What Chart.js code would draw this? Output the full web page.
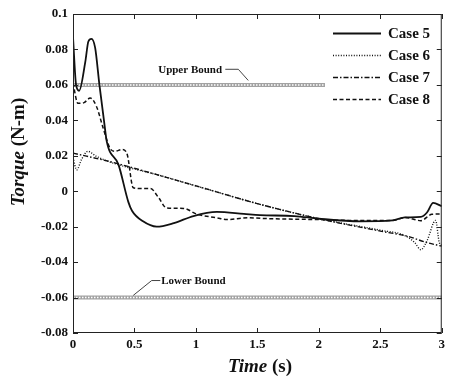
<!DOCTYPE html>
<html>
<head>
<meta charset="utf-8">
<script src="https://cdn.jsdelivr.net/npm/chart.js@4"></script>
<style>
  html, body { margin: 0; padding: 0; background: #fff; }
  #wrap { width: 449px; height: 377px; }
</style>
</head>
<body>
<div id="wrap"><canvas id="torque-chart" width="449" height="377"></canvas></div>
<script>
// time samples (s) and torque values (N-m)
const case5Time = [0, 0.025, 0.05, 0.1, 0.125, 0.15, 0.18, 0.215, 0.25, 0.275, 0.37, 0.45, 0.48, 0.57, 0.68, 0.82, 0.98, 1.17, 1.39, 1.52, 1.8, 2.0, 2.34, 2.6, 2.7, 2.83, 2.88, 2.93, 3.0];
const case5Torque = [0.087, 0.06, 0.0567, 0.073, 0.0845, 0.086, 0.081, 0.06, 0.041, 0.028, 0.015, -0.006, -0.011, -0.017, -0.02, -0.018, -0.014, -0.0117, -0.0128, -0.0135, -0.014, -0.0155, -0.017, -0.0165, -0.0148, -0.0145, -0.012, -0.0066, -0.0085];

const case6Time = [0, 0.03, 0.07, 0.12, 0.19, 0.3, 0.7, 1.1, 1.5, 2.0, 2.5, 2.7, 2.78, 2.83, 2.88, 2.95, 2.98, 3.0];
const case6Torque = [0.019, 0.012, 0.018, 0.0225, 0.0197, 0.0165, 0.009, 0.001, -0.007, -0.0155, -0.022, -0.025, -0.029, -0.033, -0.028, -0.0165, -0.029, -0.0305];

const case7Time = [0, 0.3, 0.7, 1.1, 1.5, 2.0, 2.5, 2.72, 2.88, 3.0];
const case7Torque = [0.0215, 0.0167, 0.009, 0.001, -0.007, -0.0155, -0.0225, -0.0254, -0.029, -0.031];

const case8Time = [0, 0.04, 0.09, 0.14, 0.19, 0.245, 0.3, 0.34, 0.4, 0.44, 0.49, 0.55, 0.63, 0.7, 0.76, 0.9, 1.01, 1.17, 1.25, 1.42, 1.6, 2.0, 2.3, 2.6, 2.7, 2.83, 2.92, 3.0];
const case8Torque = [0.061, 0.0496, 0.05, 0.0526, 0.048, 0.0357, 0.0244, 0.0225, 0.0236, 0.021, 0.002, 0.0015, 0.0015, -0.004, -0.0094, -0.0097, -0.013, -0.015, -0.016, -0.015, -0.0155, -0.016, -0.0165, -0.0165, -0.0148, -0.0166, -0.013, -0.0128];

const caseNames = ['Case 5', 'Case 6', 'Case 7', 'Case 8'];

// bounds
const upperBound = 0.06;
const upperBoundSpan = [0, 2.05];
const lowerBound = -0.06;
const lowerBoundSpan = [0, 3];

// tick labels
const xTickLabels = ['0', '0.5', '1', '1.5', '2', '2.5', '3'];
const yTickLabels = ['-0.08', '-0.06', '-0.04', '-0.02', '0', '0.02', '0.04', '0.06', '0.08', '0.1'];

const serif = "'Liberation Serif', 'Times New Roman', serif";

function toPoints(xs, ys) {
  return xs.map((x, i) => ({ x: x, y: ys[i] }));
}

function boundPoints(span, value) {
  return span.map(x => ({ x: x, y: value }));
}

const caseStyles = [
  { borderWidth: 1.8, borderDash: [] },
  { borderWidth: 1.4, borderDash: [1, 1.6] },
  { borderWidth: 1.4, borderDash: [5, 2, 1.5, 2] },
  { borderWidth: 1.5, borderDash: [4, 2.5] }
];

const caseData = [
  toPoints(case5Time, case5Torque),
  toPoints(case6Time, case6Torque),
  toPoints(case7Time, case7Torque),
  toPoints(case8Time, case8Torque)
];

const datasets = caseNames.map((name, i) => ({
  label: name,
  data: caseData[i],
  borderColor: '#111',
  borderWidth: caseStyles[i].borderWidth,
  borderDash: caseStyles[i].borderDash,
  pointRadius: 0,
  cubicInterpolationMode: 'monotone',
  fill: false,
  order: i
}));

// chain-looking bound lines: grey band with a white dashed line on top
[[upperBoundSpan, upperBound], [lowerBoundSpan, lowerBound]].forEach(([span, val]) => {
  datasets.push({ label: 'bound', data: boundPoints(span, val), borderColor: '#a2a2a2', borderWidth: 4, pointRadius: 0, order: 10 });
  datasets.push({ label: 'bound', data: boundPoints(span, val), borderColor: '#fff', borderWidth: 1.5, borderDash: [1.5, 1.5], pointRadius: 0, order: 9 });
});

// frame, inward ticks, legend, axis titles and bound labels
const decorations = {
  id: 'decorations',
  afterDraw(chart) {
    const ctx = chart.ctx;
    const a = chart.chartArea;
    const xs = chart.scales.x;
    const ys = chart.scales.y;
    ctx.save();

    // frame
    ctx.strokeStyle = '#222';
    ctx.lineWidth = 1;
    ctx.strokeRect(a.left + 0.5, a.top + 0.5, a.right - a.left - 1, a.bottom - a.top - 1);

    // ticks pointing inward
    const tl = 5;
    ctx.beginPath();
    xs.ticks.forEach(t => {
      const px = Math.round(xs.getPixelForValue(t.value)) + 0.5;
      ctx.moveTo(px, a.bottom); ctx.lineTo(px, a.bottom - tl);
      ctx.moveTo(px, a.top); ctx.lineTo(px, a.top + tl);
    });
    ys.ticks.forEach(t => {
      const py = Math.round(ys.getPixelForValue(t.value)) + 0.5;
      ctx.moveTo(a.left, py); ctx.lineTo(a.left + tl, py);
      ctx.moveTo(a.right, py); ctx.lineTo(a.right - tl, py);
    });
    ctx.stroke();

    // legend inside the plot
    const lx0 = 333, lx1 = 381, ly0 = 33, step = 22;
    ctx.font = 'bold 15px ' + serif;
    ctx.textBaseline = 'middle';
    ctx.textAlign = 'left';
    caseNames.forEach((name, i) => {
      const y = ly0 + i * step;
      ctx.fillStyle = '#fff';
      ctx.fillRect(lx0 - 2, y - 9, 100, 18);
      ctx.strokeStyle = '#111';
      ctx.lineWidth = caseStyles[i].borderWidth;
      ctx.setLineDash(caseStyles[i].borderDash);
      ctx.beginPath();
      ctx.moveTo(lx0, y + 0.5); ctx.lineTo(lx1, y + 0.5);
      ctx.stroke();
      ctx.setLineDash([]);
      ctx.fillStyle = '#111';
      ctx.fillText(name, 388, y + 1);
    });

    // bound labels with leader lines
    ctx.font = 'bold 11px ' + serif;
    ctx.fillStyle = '#111';
    ctx.textBaseline = 'middle';
    ctx.fillText('Upper Bound', xs.getPixelForValue(0.693), ys.getPixelForValue(0.0685));
    ctx.fillText('Lower Bound', xs.getPixelForValue(0.717), ys.getPixelForValue(-0.0507));
    ctx.strokeStyle = '#444';
    ctx.lineWidth = 1;
    ctx.beginPath();
    ctx.moveTo(xs.getPixelForValue(1.239), ys.getPixelForValue(0.0688));
    ctx.lineTo(xs.getPixelForValue(1.345), ys.getPixelForValue(0.0688));
    ctx.lineTo(xs.getPixelForValue(1.426), ys.getPixelForValue(0.0625));
    ctx.moveTo(xs.getPixelForValue(0.71), ys.getPixelForValue(-0.0504));
    ctx.lineTo(xs.getPixelForValue(0.64), ys.getPixelForValue(-0.0504));
    ctx.lineTo(xs.getPixelForValue(0.49), ys.getPixelForValue(-0.0588));
    ctx.stroke();

    // axis titles (italic word + upright unit)
    function mixedTitle(parts, cx, cy) {
      let total = 0;
      parts.forEach(p => { ctx.font = p.font; total += ctx.measureText(p.text).width; });
      let x = cx - total / 2;
      ctx.textAlign = 'left';
      ctx.textBaseline = 'alphabetic';
      parts.forEach(p => {
        ctx.font = p.font;
        ctx.fillText(p.text, x, cy);
        x += ctx.measureText(p.text).width;
      });
    }
    ctx.fillStyle = '#111';
    mixedTitle([
      { text: 'Time', font: 'italic bold 19px ' + serif },
      { text: ' (s)', font: 'bold 19px ' + serif }
    ], 260, 372);

    ctx.save();
    ctx.translate(24, 152);
    ctx.rotate(-Math.PI / 2);
    mixedTitle([
      { text: 'Torque', font: 'italic bold 19px ' + serif },
      { text: ' (N-m)', font: 'bold 19px ' + serif }
    ], 0, 0);
    ctx.restore();

    ctx.restore();
  }
};

new Chart(document.getElementById('torque-chart'), {
  type: 'line',
  data: { datasets: datasets },
  options: {
    responsive: false,
    animation: false,
    layout: { padding: { left: 0, top: 14, right: 6, bottom: 0 } },
    plugins: {
      legend: { display: false },
      tooltip: { enabled: false }
    },
    scales: {
      x: {
        type: 'linear',
        min: 0,
        max: 3,
        afterFit: s => { s.height = 44; },
        grid: { display: false, drawTicks: false },
        border: { display: false },
        ticks: {
          stepSize: 0.5,
          padding: 4,
          color: '#111',
          font: { family: serif, weight: 'bold', size: 13 },
          callback: (v, i) => xTickLabels[i]
        }
      },
      y: {
        type: 'linear',
        min: -0.08,
        max: 0.1,
        afterFit: s => { s.width = 73; },
        grid: { display: false, drawTicks: false },
        border: { display: false },
        ticks: {
          stepSize: 0.02,
          padding: 5,
          color: '#111',
          font: { family: serif, weight: 'bold', size: 13 },
          callback: (v, i) => yTickLabels[i]
        }
      }
    }
  },
  plugins: [decorations]
});
</script>
</body>
</html>
